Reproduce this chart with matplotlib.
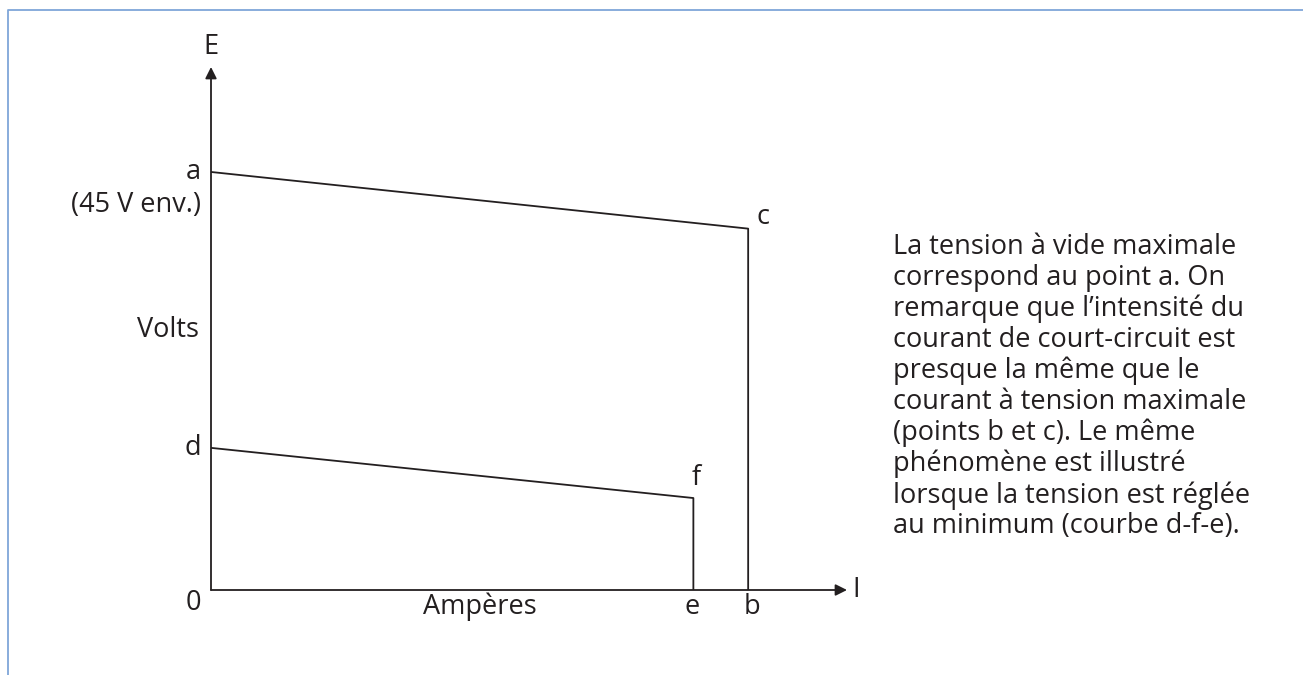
import matplotlib.pyplot as plt

# values (volts, current in arbitrary units with b = 100)
v_a = 45.0      # no-load max voltage (point a)
v_c = 38.9      # point c
v_d = 15.3      # point d (min setting)
v_f = 9.9       # point f
i_b = 100.0     # short-circuit current, max setting
i_e = 89.8      # short-circuit current, min setting
v_top = 56.3
i_end = 118.4

note = ("La tension à vide maximale\n"
        "correspond au point a. On\n"
        "remarque que l\u2019intensité du\n"
        "courant de court-circuit est\n"
        "presque la même que le\n"
        "courant à tension maximale\n"
        "(points b et c). Le même\n"
        "phénomène est illustré\n"
        "lorsque la tension est réglée\n"
        "au minimum (courbe d-f-e).")

plt.rcParams['font.family'] = ['Open Sans', 'DejaVu Sans']
ink = '#231f20'

fig = plt.figure(figsize=(13.03, 6.75), dpi=100)

# light blue frame around the figure
frame = fig.add_axes([0, 0, 1, 1])
frame.set_xlim(0, 1303)
frame.set_ylim(675, 0)
frame.axis('off')
frame.plot([8, 8, 1303], [675, 10, 10], color='#7fa6d9', lw=1.3)

ax = fig.add_axes([211 / 1303, 85 / 675, 636 / 1303, 523 / 675])
ax.set_xlim(0, i_end)
ax.set_ylim(0, v_top)
ax.axis('off')

# axes with arrows
ax.annotate('', xy=(0, v_top), xytext=(0, 0),
            arrowprops=dict(arrowstyle='-|>', color=ink, lw=1.3,
                            mutation_scale=17, shrinkA=0, shrinkB=0))
ax.annotate('', xy=(i_end, 0), xytext=(0, 0),
            arrowprops=dict(arrowstyle='-|>', color=ink, lw=1.3,
                            mutation_scale=17, shrinkA=0, shrinkB=0))

# curves a-c-b and d-f-e
ax.plot([0, i_b, i_b], [v_a, v_c, 0], color=ink, lw=1.3)
ax.plot([0, i_e, i_e], [v_d, v_f, 0], color=ink, lw=1.3)

fs = 19.5
kw = dict(fontsize=fs, color=ink)
frame.text(211, 47, 'E', ha='center', va='center', **kw)
frame.text(201, 172, 'a', ha='right', va='center', **kw)
frame.text(201, 205, '(45 V env.)', ha='right', va='center', **kw)
frame.text(168, 330, 'Volts', ha='center', va='center', **kw)
frame.text(201, 448, 'd', ha='right', va='center', **kw)
frame.text(201, 603, '0', ha='right', va='center', **kw)
frame.text(480, 607, 'Ampères', ha='center', va='center', **kw)
frame.text(692, 607, 'e', ha='center', va='center', **kw)
frame.text(752, 607, 'b', ha='center', va='center', **kw)
frame.text(852, 590, 'I', ha='left', va='center', **kw)
frame.text(756, 217, 'c', ha='left', va='center', **kw)
frame.text(692, 478, 'f', ha='left', va='center', **kw)

frame.text(893, 233, note, ha='left', va='top', fontsize=fs,
           color=ink, linespacing=1.13)

fig.savefig('out.png', dpi=100)
